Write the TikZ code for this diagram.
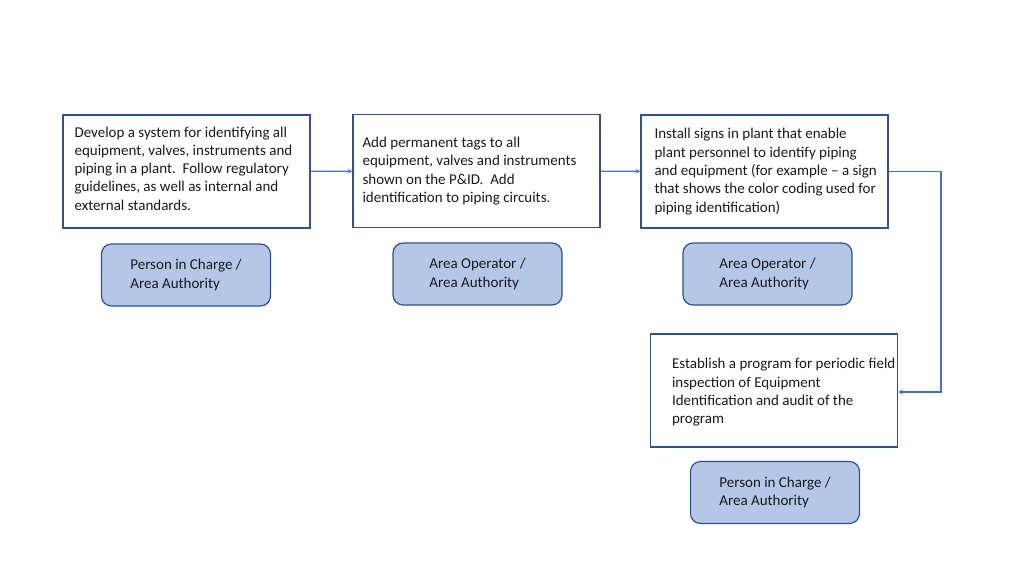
\documentclass[tikz,border=0pt]{standalone}
\usepackage{fontspec}
\setmainfont{Carlito}
\usepackage{tikz}
\usetikzlibrary{arrows, calc}
\definecolor{boxline}{HTML}{2F528F}
\definecolor{rolefill}{HTML}{B4C7E7}
\definecolor{arrowline}{HTML}{4472C4}

\begin{document}
\begin{tikzpicture}[x=1pt,y=1pt]
\tikzset{
    node style box/.style={draw=boxline, line width=1.3pt, rectangle, minimum width=247pt, minimum height=113pt},
    node style text/.style={anchor=west, align=left, inner sep=0pt, text=black!90, font=\fontsize{15}{18.3}\selectfont},
    node style role/.style={draw=boxline, line width=1.2pt, fill=rolefill, rectangle, rounded corners=10pt, minimum width=169pt, minimum height=62pt, align=left, text=black!90, font=\fontsize{15}{18.3}\selectfont},
    every edge/.style={draw=arrowline, line width=1.1pt},
}
  \useasboundingbox (0,0) rectangle (1024,-576);
  \node[node style box] (box1) at (186.5,-171.5) {};
  \node[node style box] (box2) at (476.5,-171) {};
  \node[node style box] (box3) at (764.5,-171.5) {};
  \node[node style box] (box4) at (774,-390.5) {};
  \node[node style text] (txt1) at ($(box1.west)+(12,3)$) {Develop a system for identifying all\\ equipment, valves, instruments and\\ piping in a plant.\ \ Follow regulatory\\ guidelines, as well as internal and\\ external standards.};
  \node[node style text] (txt2) at ($(box2.west)+(10,0)$) {Add permanent tags to all\\ equipment, valves and instruments\\ shown on the P\&ID.\ \ Add\\ identification to piping circuits.};
  \node[node style text] (txt3) at ($(box3.west)+(14,0)$) {Install signs in plant that enable\\ plant personnel to identify piping\\ and equipment (for example – a sign\\ that shows the color coding used for\\ piping identification)};
  \node[node style text] (txt4) at ($(box4.west)+(22,-2)$) {Establish a program for periodic field\\ inspection of Equipment\\ Identification and audit of the\\ program};
  \node[node style role] (role1) at (186,-275) {Person in Charge /\\ Area Authority};
  \node[node style role] (role2) at (477.5,-274) {Area Operator /\\ Area Authority};
  \node[node style role] (role3) at (767.5,-274) {Area Operator /\\ Area Authority};
  \node[node style role] (role4) at (775,-492.5) {Person in Charge /\\ Area Authority};
  \coordinate (turn) at (941,-171.5);
  \path[-stealth]
    (box1) edge (box2)
    (box2) edge (box3);
  \draw[-stealth, arrowline, line width=1.1pt] (box3.east) -- (turn) |- ($(box4.east)+(0,-1.5)$);
\end{tikzpicture}
\end{document}
